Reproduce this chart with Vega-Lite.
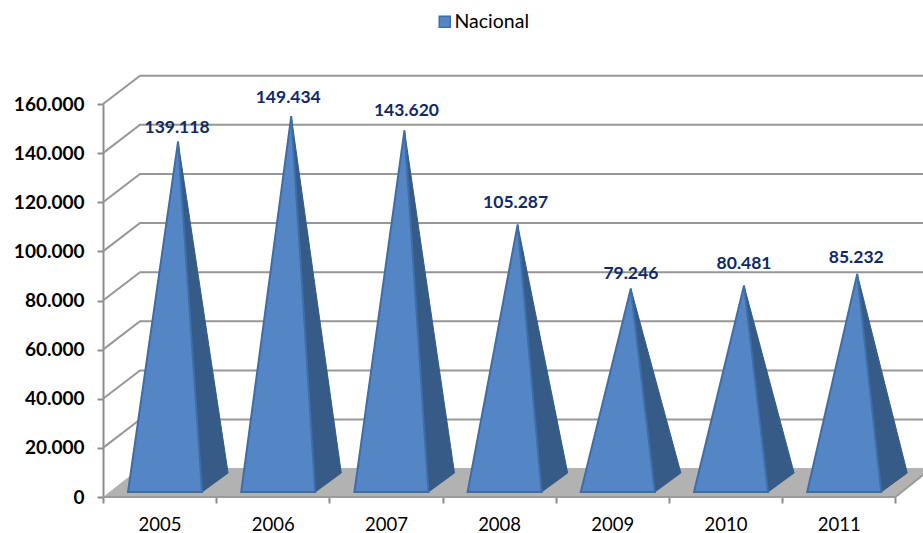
{
"$schema":"https://vega.github.io/schema/vega-lite/v6.json",
"autosize":"none","width":820,"height":393,
"padding":{"left":103,"top":104,"right":0,"bottom":36},
"background":"white",
"config":{"view":{"stroke":null},"font":"Lato","locale":{"number":{"decimal":",","thousands":".","grouping":[3],"currency":["",""]}}},
"datasets":{
"bars":[
{"year":2005,"value":139118,"series":"Nacional"},
{"year":2006,"value":149434,"series":"Nacional"},
{"year":2007,"value":143620,"series":"Nacional"},
{"year":2008,"value":105287,"series":"Nacional"},
{"year":2009,"value":79246,"series":"Nacional"},
{"year":2010,"value":80481,"series":"Nacional"},
{"year":2011,"value":85232,"series":"Nacional"}],
"ticks":[{"tick":20000},{"tick":40000},{"tick":60000},{"tick":80000},{"tick":100000},{"tick":120000},{"tick":140000},{"tick":160000}],
"corners":[{"corner":0},{"corner":1},{"corner":2},{"corner":3}]
},
"encoding":{
"x":{"field":"x","type":"quantitative","scale":{"domain":[0,7.244],"nice":false,"zero":false},
"axis":{"title":null,"values":[0,1,2,3,4,5,6,7],"grid":false,"domain":false,"tickColor":"#8C8C8C","tickWidth":2,"tickSize":6,"labelExpr":"datum.value<7?''+(datum.value+2005):''","labelOffset":56.5,"labelFontSize":18.5,"labelColor":"#000000","labelPadding":12,"labelFlush":false,"labelOverlap":false}},
"y":{"field":"y","type":"quantitative","stack":null,"scale":{"domain":[0,160000],"nice":false},
"axis":{"title":null,"values":[0,20000,40000,60000,80000,100000,120000,140000,160000],"format":",.0f","grid":false,"domainColor":"#8C8C8C","domainWidth":2,"tickColor":"#8C8C8C","tickWidth":2,"tickSize":6,"labelFontSize":19,"labelFontWeight":"bold","labelColor":"#000000","labelPadding":13}}
},
"layer":[
{"data":{"name":"corners"},
"transform":[
{"calculate":"[0,0.327,7,7.244][datum.corner]","as":"x"},
{"calculate":"[0,11810,11810,11810][datum.corner]","as":"y"},
{"calculate":"[0,0,0,8950][datum.corner]","as":"y2"}],
"mark":{"type":"area","fill":"#B2B2B2","clip":false},
"encoding":{"y2":{"field":"y2"}}},
{"data":{"name":"corners"},
"transform":[{"filter":"datum.corner>0"},
{"calculate":"[0,0,7,7.244][datum.corner]","as":"x"},
{"calculate":"[0,0,0,8950][datum.corner]","as":"y"}],
"mark":{"type":"line","stroke":"#9A9A9A","strokeWidth":2,"clip":false},
"encoding":{}},
{"data":{"name":"ticks"},
"transform":[
{"calculate":"[0,1,2]","as":"v"},{"flatten":["v"]},
{"calculate":"[0,0.327,7.244][datum.v]","as":"x"},
{"calculate":"datum.tick+(datum.v>0?11550:0)","as":"y"}],
"mark":{"type":"line","stroke":"#979797","strokeWidth":2,"clip":false},
"encoding":{"detail":{"field":"tick"},"order":{"field":"v"}}},
{"data":{"name":"bars"},
"transform":[
{"calculate":"[0,1,2]","as":"v"},{"flatten":["v"]},
{"calculate":"datum.value+5600","as":"apex"},
{"calculate":"datum.year-2005+[0.663,0.875,1.105][datum.v]","as":"x"},
{"calculate":"[datum.apex,datum.apex+(9800-datum.apex)*0.48,9800][datum.v]","as":"y"},
{"calculate":"[datum.apex,2040,9800][datum.v]","as":"y2"}],
"mark":{"type":"area","fill":"#365B87","stroke":"#365B87","strokeWidth":1,"clip":false},
"encoding":{"y2":{"field":"y2"},"detail":{"field":"year"}}},
{"data":{"name":"bars"},
"transform":[
{"calculate":"[0,1,2]","as":"v"},{"flatten":["v"]},
{"calculate":"datum.year-2005+[0.221,0.663,0.875][datum.v]","as":"x"},
{"calculate":"datum.v==1?datum.value+5600:2040","as":"y"},
{"calculate":"2040","as":"y2"}],
"mark":{"type":"area","stroke":"#3F6EA6","strokeWidth":2,"clip":false},
"encoding":{"y2":{"field":"y2"},"detail":{"field":"year"},
"color":{"field":"series","type":"nominal","title":null,"scale":{"range":["#5486C6"]},
"legend":{"orient":"none","legendX":332,"legendY":-92,"symbolType":"square","symbolSize":120,"symbolStrokeColor":"#3F6EA6","symbolStrokeWidth":1.5,"labelFontSize":19.5,"labelColor":"#000000","labelOffset":0,"padding":0}}}},
{"data":{"name":"bars"},
"transform":[
{"calculate":"datum.value+5600+407.6*[14,18,19,22,15,22,16][datum.year-2005]","as":"y"},
{"calculate":"datum.year-2005+0.663+[-1,-3,2,-2,0,0,-1][datum.year-2005]/113.2","as":"x"}],
"mark":{"type":"text","fontSize":17.5,"fontWeight":"bold","color":"#0F2A66","baseline":"middle","align":"center","clip":false},
"encoding":{"text":{"field":"value","type":"quantitative","format":",.0f"}}}
]
}
